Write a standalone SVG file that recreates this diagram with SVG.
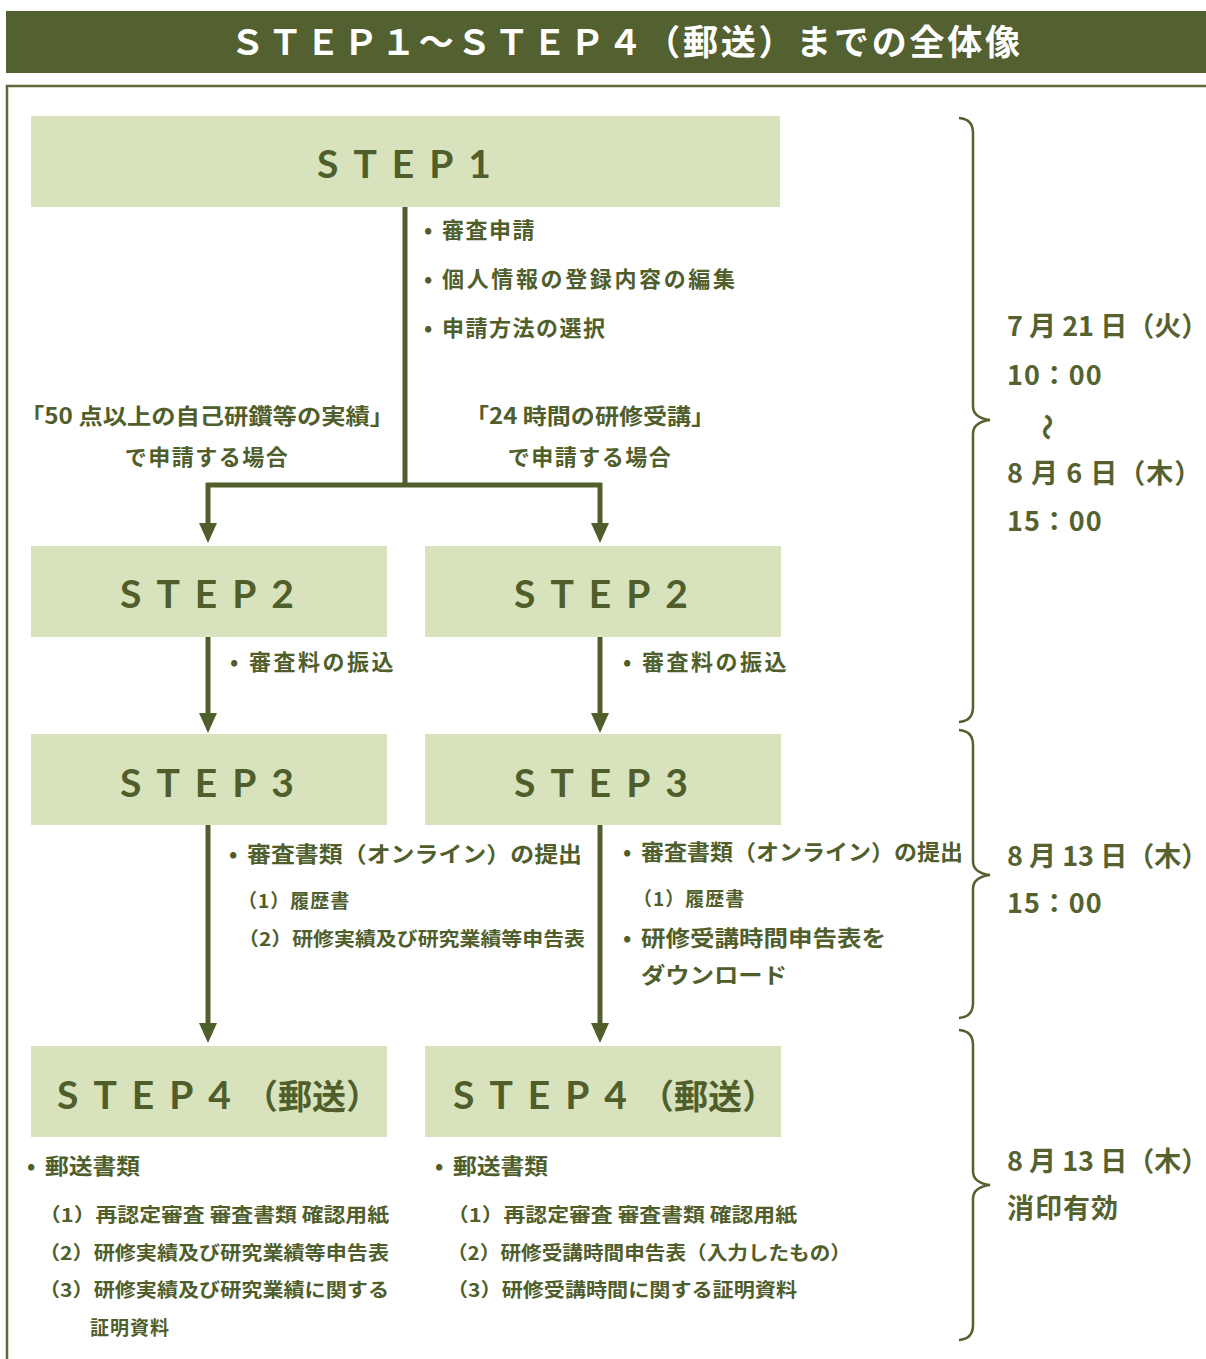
<svg xmlns="http://www.w3.org/2000/svg" width="1206" height="1359" viewBox="0 0 1206 1359">
<defs>
<style>
.box{fill:#d8e3be}
.step{font-family:Lato,"Noto Sans",sans-serif;font-weight:700;font-size:39px;fill:#4f5e2b;letter-spacing:15px}
.stepj{font-family:"Noto Sans CJK JP",sans-serif;font-weight:700;font-size:34px;letter-spacing:0}
.t{font-family:"Noto Sans CJK JP",sans-serif;font-weight:700;font-size:22px;fill:#4f5e2b}
.s{font-family:"Noto Sans CJK JP",sans-serif;font-weight:700;font-size:19px;fill:#4f5e2b}
.d{font-family:"Noto Sans CJK JP",sans-serif;font-weight:700;font-size:27px;fill:#55622f}
.ln{stroke:#4f5e2b;stroke-width:5;fill:none}
.br{stroke:#55622f;stroke-width:2.5;fill:none}
</style>
<marker id="ah" viewBox="0 0 20 18" refX="0" refY="9" markerWidth="20" markerHeight="18" markerUnits="userSpaceOnUse" orient="auto">
<path d="M0,0 L20,9 L0,18 Z" fill="#4f5e2b"/>
</marker>
</defs>
<rect width="1206" height="1359" fill="#ffffff"/>
<g id="title">
<rect x="6" y="11" width="1200" height="62" fill="#536030"/>
<text x="625" y="55" text-anchor="middle" font-family="'Noto Sans CJK JP',sans-serif" font-weight="700" font-size="35" fill="#ffffff" textLength="790" lengthAdjust="spacing">ＳＴＥＰ１～ＳＴＥＰ４（郵送）までの全体像</text>
</g>
<g id="frame">
<path d="M7,1359 L7,86 L1206,86" stroke="#5d6b3a" stroke-width="2.5" fill="none"/>
</g>
<g id="connectors">
<path class="ln" d="M405,207 L405,485"/>
<path class="ln" d="M206,485 L602,485"/>
<path class="ln" d="M208,483 L208,523" marker-end="url(#ah)"/>
<path class="ln" d="M600,483 L600,523" marker-end="url(#ah)"/>
<path class="ln" d="M208,637 L208,713" marker-end="url(#ah)"/>
<path class="ln" d="M600,637 L600,713" marker-end="url(#ah)"/>
<path class="ln" d="M208,825 L208,1023" marker-end="url(#ah)"/>
<path class="ln" d="M600,825 L600,1023" marker-end="url(#ah)"/>
</g>
<g id="step1">
<rect class="box" x="31" y="116" width="749" height="91"/>
<text class="step" x="317" y="178">STEP1</text>
</g>
<g id="step1-notes">
<text class="t" x="424" y="238">•</text><text class="t" x="442" y="238" letter-spacing="1.5">審査申請</text>
<text class="t" x="424" y="287">•</text><text class="t" x="442" y="287" textLength="293" lengthAdjust="spacing">個人情報の登録内容の編集</text>
<text class="t" x="424" y="336">•</text><text class="t" x="442" y="336" letter-spacing="1.5">申請方法の選択</text>
</g>
<g id="branch-labels">
<text class="t" x="207" y="424" text-anchor="middle" textLength="374" lengthAdjust="spacingAndGlyphs">「50 点以上の自己研鑽等の実績」</text>
<text class="t" x="207" y="465" text-anchor="middle" letter-spacing="1.5">で申請する場合</text>
<text class="t" x="590" y="424" text-anchor="middle" textLength="250" lengthAdjust="spacingAndGlyphs">「24 時間の研修受講」</text>
<text class="t" x="590" y="465" text-anchor="middle" letter-spacing="1.5">で申請する場合</text>
</g>
<g id="step2-left">
<rect class="box" x="31" y="546" width="356" height="91"/>
<text class="step" x="120" y="608">STEP2</text>
</g>
<g id="step2-right">
<rect class="box" x="425" y="546" width="356" height="91"/>
<text class="step" x="514" y="608">STEP2</text>
</g>
<g id="step2-notes">
<text class="t" x="230" y="670">•</text><text class="t" x="249" y="670" letter-spacing="2.5">審査料の振込</text>
<text class="t" x="623" y="670">•</text><text class="t" x="642" y="670" letter-spacing="2.5">審査料の振込</text>
</g>
<g id="step3-left">
<rect class="box" x="31" y="734" width="356" height="91"/>
<text class="step" x="120" y="797">STEP3</text>
</g>
<g id="step3-right">
<rect class="box" x="425" y="734" width="356" height="91"/>
<text class="step" x="514" y="797">STEP3</text>
</g>
<g id="step3-notes">
<text class="t" x="229" y="862">•</text><text class="t" x="247" y="862" textLength="335" lengthAdjust="spacingAndGlyphs">審査書類（オンライン）の提出</text>
<text class="s" x="238" y="908" letter-spacing="1">（1）履歴書</text>
<text class="s" x="238" y="946" textLength="347" lengthAdjust="spacingAndGlyphs">（2）研修実績及び研究業績等申告表</text>
<text class="t" x="623" y="860">•</text><text class="t" x="641" y="860" textLength="322" lengthAdjust="spacingAndGlyphs">審査書類（オンライン）の提出</text>
<text class="s" x="633" y="906" letter-spacing="1">（1）履歴書</text>
<text class="t" x="623" y="946">•</text><text class="t" x="641" y="946" textLength="245" lengthAdjust="spacingAndGlyphs">研修受講時間申告表を</text>
<text class="t" x="641" y="983" textLength="146" lengthAdjust="spacingAndGlyphs">ダウンロード</text>
</g>
<g id="step4-left">
<rect class="box" x="31" y="1046" width="356" height="91"/>
<text class="step" x="57" y="1109">STEP4<tspan class="stepj" dx="-2">（郵送）</tspan></text>
</g>
<g id="step4-right">
<rect class="box" x="425" y="1046" width="356" height="91"/>
<text class="step" x="453" y="1109">STEP4<tspan class="stepj" dx="-2">（郵送）</tspan></text>
</g>
<g id="step4-notes">
<text class="t" x="27" y="1174">•</text><text class="t" x="45" y="1174" textLength="95" lengthAdjust="spacingAndGlyphs">郵送書類</text>
<text class="s" x="39" y="1222" textLength="350" lengthAdjust="spacingAndGlyphs">（1）再認定審査 審査書類 確認用紙</text>
<text class="s" x="39" y="1260" textLength="350" lengthAdjust="spacingAndGlyphs">（2）研修実績及び研究業績等申告表</text>
<text class="s" x="39" y="1297" textLength="350" lengthAdjust="spacingAndGlyphs">（3）研修実績及び研究業績に関する</text>
<text class="s" x="90" y="1335" letter-spacing="1">証明資料</text>
<text class="t" x="435" y="1174">•</text><text class="t" x="453" y="1174" textLength="95" lengthAdjust="spacingAndGlyphs">郵送書類</text>
<text class="s" x="447" y="1222" textLength="350" lengthAdjust="spacingAndGlyphs">（1）再認定審査 審査書類 確認用紙</text>
<text class="s" x="447" y="1260" textLength="404" lengthAdjust="spacingAndGlyphs">（2）研修受講時間申告表（入力したもの）</text>
<text class="s" x="447" y="1297" textLength="350" lengthAdjust="spacingAndGlyphs">（3）研修受講時間に関する証明資料</text>
</g>
<g id="braces">
<path class="br" d="M959,118 Q973,119 973,133 L973,406 Q973,418 990,420 Q973,422 973,434 L973,707 Q973,721 959,722"/>
<path class="br" d="M959,730 Q973,731 973,745 L973,861 Q973,873 990,875 Q973,877 973,889 L973,1003 Q973,1017 959,1018"/>
<path class="br" d="M959,1030 Q973,1031 973,1045 L973,1171 Q973,1183 990,1185 Q973,1187 973,1199 L973,1325 Q973,1339 959,1340"/>
</g>
<g id="dates">
<text class="d" x="1007" y="336">7 月 21 日（火）</text>
<text class="d" x="1007" y="385" letter-spacing="1">10：00</text>
<text class="d" x="1048" y="427" text-anchor="middle" dominant-baseline="central" font-size="20" transform="rotate(90 1048 427)">～</text>
<text class="d" x="1007" y="483" letter-spacing="1">8 月 6 日（木）</text>
<text class="d" x="1007" y="531" letter-spacing="1">15：00</text>
<text class="d" x="1007" y="866">8 月 13 日（木）</text>
<text class="d" x="1007" y="913" letter-spacing="1">15：00</text>
<text class="d" x="1007" y="1171">8 月 13 日（木）</text>
<text class="d" x="1007" y="1218" letter-spacing="1">消印有効</text>
</g>
</svg>
